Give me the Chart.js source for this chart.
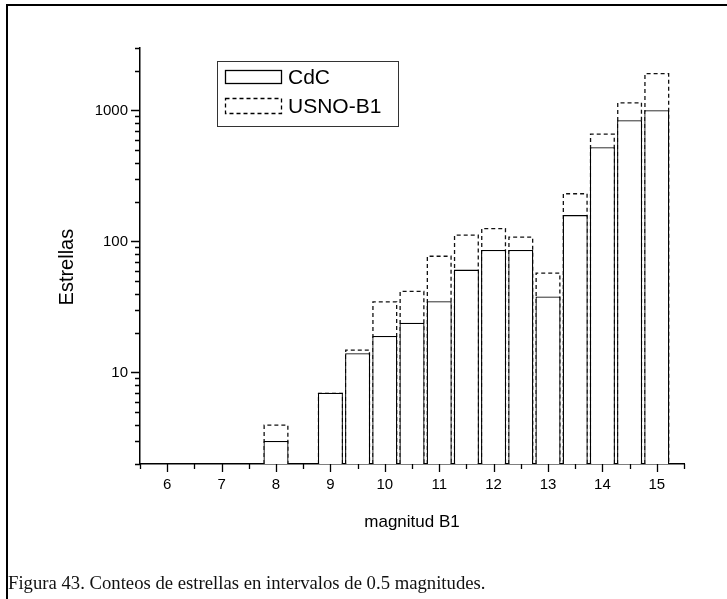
<!DOCTYPE html>
<html>
<head>
<meta charset="utf-8">
<script src="https://cdn.jsdelivr.net/npm/chart.js@4.4.1/dist/chart.umd.min.js"></script>
<style>
  html, body { margin: 0; padding: 0; background: #fff; }
  #wrap { position: relative; width: 727px; height: 599px; overflow: hidden; }
  #frame { position: absolute; left: 6px; top: 4px; right: -10px; bottom: -10px;
           border-top: 2px solid #000; border-left: 2px solid #000; }
  #chart { position: absolute; left: 0; top: 0; }
  #caption { position: absolute; left: 8px; top: 572px; line-height: 22px;
             font: 18.7px "Liberation Serif", "DejaVu Serif", serif; color: #111; white-space: nowrap; }
</style>
</head>
<body>
<div id="wrap">
  <div id="frame"></div>
  <canvas id="chart" width="727" height="599"></canvas>
  <div id="caption">Figura 43. Conteos de estrellas en intervalos de 0.5 magnitudes.</div>
</div>
<script>
// bins of 0.5 mag, counts (null = empty bin)
const binCenters = [6, 6.5, 7, 7.5, 8, 8.5, 9, 9.5, 10, 10.5, 11, 11.5, 12, 12.5, 13, 13.5, 14, 14.5, 15];
const cdcCounts  = [null, null, null, null, 3, null, 7, 14, 19, 24, 35, 61, 86, 86, 38, 159, 524, 844, 1005];
const usnoCounts = [null, null, null, null, 4, null, 7, 15, 35, 42, 78, 113, 127, 109, 58, 234, 667, 1158, 1932];
const seriesLabels = ['CdC', 'USNO-B1'];

const xTickValues = [5.5, 6, 6.5, 7, 7.5, 8, 8.5, 9, 9.5, 10, 10.5, 11, 11.5, 12, 12.5, 13, 13.5, 14, 14.5, 15, 15.5];
const xTickLabels = ['6', '7', '8', '9', '10', '11', '12', '13', '14', '15'];
const yTickValues = [2, 3, 4, 5, 6, 7, 8, 9, 10, 20, 30, 40, 50, 60, 70, 80, 90,
                     100, 200, 300, 400, 500, 600, 700, 800, 900, 1000, 2000, 3000];
const yTickLabels = ['10', '100', '1000'];

Chart.defaults.font.family = '"Liberation Sans", Arial, sans-serif';
Chart.defaults.color = '#000';

// USNO-B1 bars: dashed outline, drawn right after that dataset so CdC sits on top
const dashedBars = {
  id: 'dashedBars',
  afterDatasetDraw(chart, args) {
    if (args.index !== 1) return;
    const ctx = chart.ctx;
    const area = chart.chartArea;
    ctx.save();
    ctx.beginPath();
    ctx.rect(area.left, area.top - 2, area.right - area.left, area.bottom - area.top + 2);
    ctx.clip();
    ctx.strokeStyle = '#111';
    ctx.lineWidth = 1.3;
    ctx.setLineDash([4, 3]);
    args.meta.data.forEach((bar, i) => {
      if (usnoCounts[i] == null) return;
      const p = bar.getProps(['x', 'y', 'base', 'width'], true);
      const l = p.x - p.width / 2 + 0.65, r = p.x + p.width / 2 - 0.65;
      ctx.beginPath();
      ctx.moveTo(l, p.base);
      ctx.lineTo(l, p.y + 0.65);
      ctx.lineTo(r, p.y + 0.65);
      ctx.lineTo(r, p.base);
      ctx.stroke();
    });
    ctx.restore();
  }
};

// outward tick marks, long for labelled ticks
const tickMarks = {
  id: 'tickMarks',
  afterDraw(chart) {
    const ctx = chart.ctx;
    const xs = chart.scales.x, ys = chart.scales.y;
    ctx.save();
    ctx.strokeStyle = '#000';
    ctx.lineWidth = 1.3;
    ctx.beginPath();
    xs.ticks.forEach(t => {
      const px = Math.round(xs.getPixelForValue(t.value)) + 0.5;
      const len = Number.isInteger(t.value) ? 8 : 5;
      ctx.moveTo(px, xs.top);
      ctx.lineTo(px, xs.top + len);
    });
    ys.ticks.forEach(t => {
      const py = Math.round(ys.getPixelForValue(t.value)) + 0.5;
      const len = yTickLabels.includes(String(t.value)) ? 9 : 5;
      ctx.moveTo(ys.right, py);
      ctx.lineTo(ys.right - len, py);
    });
    ctx.stroke();
    ctx.restore();
  }
};

// legend box inside the plot
const boxLegend = {
  id: 'boxLegend',
  afterDraw(chart) {
    const ctx = chart.ctx;
    ctx.save();
    ctx.strokeStyle = '#333';
    ctx.lineWidth = 1;
    ctx.strokeRect(217.5, 61.5, 181, 65);

    ctx.strokeStyle = '#000';
    ctx.lineWidth = 1.3;
    ctx.strokeRect(225.5, 70.5, 56, 13);
    ctx.setLineDash([4, 3]);
    ctx.strokeRect(225.5, 98.5, 56, 15);
    ctx.setLineDash([]);

    ctx.fillStyle = '#000';
    ctx.font = '21px "Liberation Sans", Arial, sans-serif';
    ctx.textBaseline = 'middle';
    const ds = chart.data.datasets;
    ctx.fillText(ds[0].label, 288, 78);
    ctx.fillText(ds[1].label, 288, 107);
    ctx.restore();
  }
};

new Chart(document.getElementById('chart'), {
  type: 'bar',
  data: {
    datasets: [
      {
        label: seriesLabels[0],
        data: binCenters.map((x, i) => ({ x: x, y: cdcCounts[i] })),
        backgroundColor: '#fff',
        borderColor: '#000',
        borderWidth: 1.3,
        grouped: false,
        order: 0,
        barPercentage: 0.92,
        categoryPercentage: 1
      },
      {
        label: seriesLabels[1],
        data: binCenters.map((x, i) => ({ x: x, y: usnoCounts[i] })),
        backgroundColor: 'rgba(0,0,0,0)',
        borderWidth: 0,
        grouped: false,
        order: 1,
        barPercentage: 0.92,
        categoryPercentage: 1
      }
    ]
  },
  options: {
    responsive: false,
    animation: false,
    events: [],
    layout: { padding: { left: 57.5, top: 48, right: 43, bottom: 68.5 } },
    plugins: { legend: { display: false }, tooltip: { enabled: false } },
    scales: {
      x: {
        type: 'linear',
        offset: false,
        min: 5.5,
        max: 15.5,
        afterBuildTicks: s => { s.ticks = xTickValues.map(v => ({ value: v })); },
        afterFit: s => { s.height = 66.5; },
        grid: { display: false, drawTicks: false, offset: false },
        border: { display: true, color: '#000', width: 1.5 },
        ticks: {
          autoSkip: false, maxRotation: 0, padding: 12,
          font: { size: 15 },
          callback: v => xTickLabels.includes(String(v)) ? String(v) : ''
        },
        title: { display: true, text: 'magnitud B1', font: { size: 17, lineHeight: 1 }, padding: 0 }
      },
      y: {
        type: 'logarithmic',
        min: 2,
        max: 3000,
        afterBuildTicks: s => { s.ticks = yTickValues.map(v => ({ value: v })); },
        afterFit: s => { s.width = 82.5; },
        grid: { display: false, drawTicks: false },
        border: { display: true, color: '#000', width: 1.5 },
        ticks: {
          autoSkip: false, padding: 12,
          font: { size: 15 },
          callback: v => yTickLabels.includes(String(v)) ? String(v) : ''
        },
        title: { display: true, text: 'Estrellas    ', font: { size: 20, lineHeight: 1 }, padding: 0 }
      }
    }
  },
  plugins: [dashedBars, tickMarks, boxLegend]
});
</script>
</body>
</html>
